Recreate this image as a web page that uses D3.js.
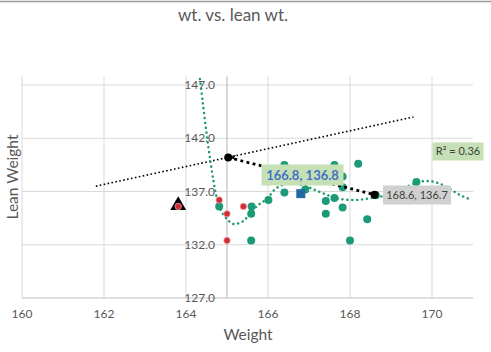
<!DOCTYPE html>
<html>
<head>
<meta charset="utf-8">
<script src="https://cdn.jsdelivr.net/npm/d3@7"></script>
<style>
  body { margin: 0; background: #fff; }
  text { font-family: Lato, "Open Sans", sans-serif; }
</style>
</head>
<body>
<div id="canvas"></div>
<script>
var width = 491,
    height = 352;

// tick values
var xTicks = [160, 162, 164, 166, 168, 170];
var yTicks = [127, 132, 137, 142, 147];

// teal series (weight, lean weight)
var tealX = [164.81, 165.60, 165.59, 165.59, 166.01, 166.40, 166.40, 166.91, 167.41, 167.41,
             167.62, 167.62, 167.82, 167.82, 167.82, 168.20, 168.00, 168.42, 168.63, 169.62];
var tealY = [135.6, 135.6, 134.9, 132.4, 136.2, 136.9, 139.5, 137.2, 136.1, 134.9,
             136.4, 139.5, 138.4, 137.4, 135.5, 139.6, 132.4, 134.4, 136.65, 137.9];

// red series
var redX = [164.81, 165.0, 165.0, 165.40, 163.81];
var redY = [136.2, 134.9, 132.4, 135.6, 135.6];

// triangle marker
var triX = [163.81];
var triY = [135.6];

// average (blue square)
var avgX = [166.8];
var avgY = [136.8];

// black two point series
var blackX = [165.03, 168.6];
var blackY = [140.2, 136.7];

// linear trendline ends
var linX = [161.8, 169.55];
var linY = [137.5, 144.0];

// polynomial trendline
var polyX = [164.34, 164.41, 164.50, 164.59, 164.67, 164.72, 164.78, 164.87, 165.01, 165.15,
             165.27, 165.40, 165.60, 165.76, 165.97, 166.21, 166.54, 166.90, 167.27, 167.68,
             168.08, 168.49, 168.90, 169.30, 169.71, 170.03, 170.36, 170.68, 170.98];
var polyY = [147.56, 145.31, 142.49, 139.96, 137.99, 136.95, 136.01, 135.10, 134.37, 133.95,
             134.00, 134.23, 135.10, 135.73, 136.30, 137.33, 137.80, 137.52, 136.95, 136.36,
             136.20, 136.36, 136.67, 137.30, 137.92, 137.92, 137.42, 136.67, 136.20];

var zip = function(xs, ys) { return xs.map(function(v, i) { return [v, ys[i]]; }); };

var svg = d3.select("#canvas").append("svg")
    .attr("width", width)
    .attr("height", height);

var x = d3.scaleLinear().domain([160, 171]).range([22, 473]);
var y = d3.scaleLinear().domain([127, 147.8]).range([298, 76.5]);

// top border
svg.append("line")
    .attr("x1", 0).attr("x2", width).attr("y1", 1.5).attr("y2", 1.5)
    .attr("stroke", "#9a9a9a").attr("stroke-width", 1.5);

svg.append("text")
    .attr("x", 233).attr("y", 21)
    .attr("text-anchor", "middle")
    .attr("font-size", 17)
    .attr("fill", "#595959")
    .text("wt. vs. lean wt.");

// gridlines
svg.append("g").selectAll("line")
    .data(xTicks).enter().append("line")
    .attr("x1", function(d) { return x(d); }).attr("x2", function(d) { return x(d); })
    .attr("y1", y(147.8)).attr("y2", y(127))
    .attr("stroke", "#d9d9d9").attr("stroke-width", 1);

svg.append("g").selectAll("line")
    .data(yTicks.slice(1)).enter().append("line")
    .attr("x1", x(160)).attr("x2", x(171))
    .attr("y1", function(d) { return y(d); }).attr("y2", function(d) { return y(d); })
    .attr("stroke", "#d9d9d9").attr("stroke-width", 1);

// axes
svg.append("line")
    .attr("x1", x(160)).attr("x2", x(171)).attr("y1", y(127)).attr("y2", y(127))
    .attr("stroke", "#bfbfbf").attr("stroke-width", 1.2);
svg.append("line")
    .attr("x1", x(165)).attr("x2", x(165)).attr("y1", y(147.8)).attr("y2", y(127))
    .attr("stroke", "#bfbfbf").attr("stroke-width", 1.2);

svg.append("g").selectAll("text")
    .data(xTicks).enter().append("text")
    .attr("x", function(d) { return x(d); })
    .attr("y", 318)
    .attr("text-anchor", "middle")
    .attr("font-size", 12)
    .attr("fill", "#595959")
    .text(function(d) { return d; });

svg.append("g").selectAll("text")
    .data(yTicks).enter().append("text")
    .attr("x", x(165) - 12)
    .attr("y", function(d) { return y(d) + 4; })
    .attr("text-anchor", "end")
    .attr("font-size", 12)
    .attr("fill", "#595959")
    .text(function(d) { return d.toFixed(1); });

svg.append("text")
    .attr("x", 248).attr("y", 340)
    .attr("text-anchor", "middle")
    .attr("font-size", 15.5)
    .attr("fill", "#595959")
    .text("Weight");

svg.append("text")
    .attr("transform", "translate(18,177) rotate(-90)")
    .attr("text-anchor", "middle")
    .attr("font-size", 15.5)
    .attr("fill", "#595959")
    .text("Lean Weight");

// linear trendline
svg.append("path")
    .datum(zip(linX, linY))
    .attr("d", d3.line().x(function(d) { return x(d[0]); }).y(function(d) { return y(d[1]); }))
    .attr("fill", "none")
    .attr("stroke", "#000")
    .attr("stroke-width", 1.6)
    .attr("stroke-dasharray", "1.6,2.4");

// teal points
svg.append("g").selectAll("circle")
    .data(zip(tealX, tealY)).enter().append("circle")
    .attr("cx", function(d) { return x(d[0]); })
    .attr("cy", function(d) { return y(d[1]); })
    .attr("r", 4)
    .attr("fill", "#1c9a7a");

// polynomial trendline
svg.append("path")
    .datum(zip(polyX, polyY))
    .attr("d", d3.line().curve(d3.curveCatmullRom)
        .x(function(d) { return x(d[0]); }).y(function(d) { return y(d[1]); }))
    .attr("fill", "none")
    .attr("stroke", "#1c9a6a")
    .attr("stroke-width", 2.5)
    .attr("stroke-linecap", "round")
    .attr("stroke-dasharray", "0.1,4.8");

// triangle
svg.append("g").selectAll("path")
    .data(zip(triX, triY)).enter().append("path")
    .attr("transform", function(d) { return "translate(" + x(d[0]) + "," + (y(d[1]) - 1) + ")"; })
    .attr("d", d3.symbol().type(d3.symbolTriangle).size(110))
    .attr("fill", "#000");

// red points
svg.append("g").selectAll("circle")
    .data(zip(redX, redY)).enter().append("circle")
    .attr("cx", function(d) { return x(d[0]); })
    .attr("cy", function(d) { return y(d[1]); })
    .attr("r", 3.2)
    .attr("fill", "#d42a36")
    .attr("stroke", "#e8a0a6")
    .attr("stroke-width", 0.8);

// black series
svg.append("path")
    .datum(zip(blackX, blackY))
    .attr("d", d3.line().x(function(d) { return x(d[0]); }).y(function(d) { return y(d[1]); }))
    .attr("fill", "none")
    .attr("stroke", "#000")
    .attr("stroke-width", 2.8)
    .attr("stroke-dasharray", "2.8,3.5");

svg.append("g").selectAll("circle")
    .data(zip(blackX, blackY)).enter().append("circle")
    .attr("cx", function(d) { return x(d[0]); })
    .attr("cy", function(d) { return y(d[1]); })
    .attr("r", 4)
    .attr("fill", "#000");

// small arrow head next to the first black point
svg.append("path")
    .attr("d", "M" + (x(blackX[0]) + 2) + "," + y(blackY[0]) +
        " l6,-3 l-2,3 l2,3 z")
    .attr("fill", "#000");

// average square
svg.append("g").selectAll("rect")
    .data(zip(avgX, avgY)).enter().append("rect")
    .attr("x", function(d) { return x(d[0]) - 4.5; })
    .attr("y", function(d) { return y(d[1]) - 4.5; })
    .attr("width", 9).attr("height", 9)
    .attr("fill", "#1f6aa5");

// labels
function label(cx, cy, w, h, fill, txt, color, size, weight) {
  var g = svg.append("g");
  g.append("rect")
      .attr("x", cx - w / 2).attr("y", cy - h / 2)
      .attr("width", w).attr("height", h)
      .attr("fill", fill);
  g.append("text")
      .attr("x", cx).attr("y", cy + size * 0.36)
      .attr("text-anchor", "middle")
      .attr("font-size", size)
      .attr("font-weight", weight)
      .attr("fill", color)
      .text(txt);
}

label(302.5, 175, 82, 21, "#c5e0b4", avgX[0].toFixed(1) + ", " + avgY[0].toFixed(1), "#4472c4", 13, "bold");
label(417, 195, 68, 19, "#d0d0d0", blackX[1].toFixed(1) + ", " + blackY[1].toFixed(1), "#404040", 11, "normal");
label(458, 151.5, 51, 18, "#c5e0b4", "R\u00b2 = 0.36", "#404040", 11, "normal");
</script>
</body>
</html>
